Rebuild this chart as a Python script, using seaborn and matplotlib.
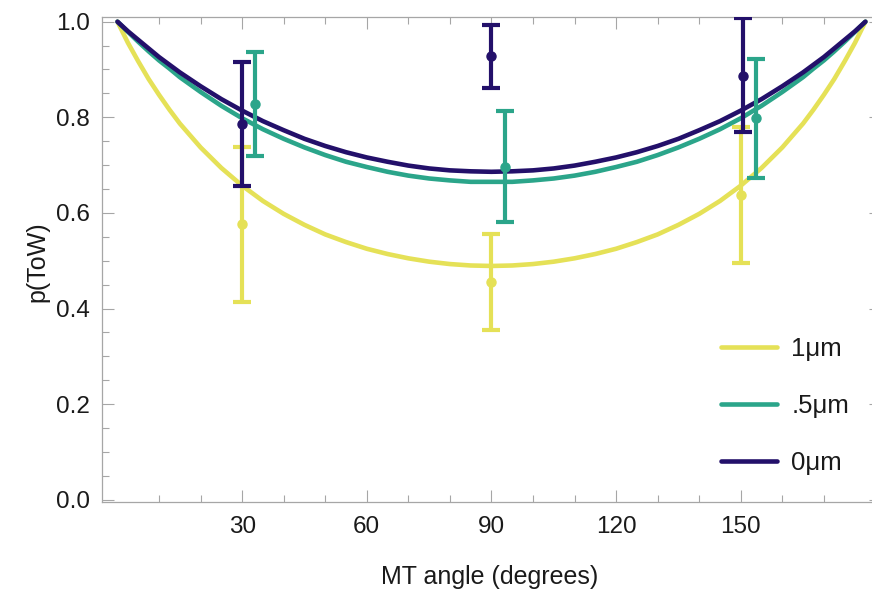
import numpy as np
import pandas as pd
import matplotlib
matplotlib.use("Agg")
import matplotlib.pyplot as plt
import seaborn as sns
from matplotlib.ticker import FixedLocator, FormatStrFormatter
from matplotlib.lines import Line2D

# ---------------- data ----------------
series_names = ["1\u03bcm", ".5\u03bcm", "0\u03bcm"]

curve_angles = [0, 2.5, 5, 7.5, 10, 12.5, 15, 20, 25, 30, 35, 40, 45, 50, 55, 60, 65, 70, 75, 80, 85, 90,
                95, 100, 105, 110, 115, 120, 125, 130, 135, 140, 145, 150, 155, 160, 165,
                167.5, 170, 172.5, 175, 177.5, 180]
curve_1um = [1.000, 0.956, 0.917, 0.880, 0.847, 0.816, 0.787, 0.737, 0.694, 0.657, 0.625, 0.598,
             0.575, 0.555, 0.539, 0.525, 0.514, 0.505, 0.498, 0.493, 0.490, 0.489,
             0.490, 0.493, 0.498, 0.505, 0.514, 0.525, 0.539, 0.555, 0.575, 0.598, 0.625, 0.657,
             0.694, 0.737, 0.787, 0.816, 0.847, 0.880, 0.917, 0.956, 1.000]
curve_05um = [1.000, 0.979, 0.958, 0.938, 0.919, 0.902, 0.884, 0.853, 0.824, 0.798, 0.775, 0.755,
              0.737, 0.721, 0.707, 0.696, 0.686, 0.678, 0.672, 0.668, 0.665, 0.665,
              0.665, 0.668, 0.672, 0.678, 0.686, 0.696, 0.707, 0.721, 0.737, 0.755, 0.775, 0.798,
              0.824, 0.853, 0.884, 0.902, 0.919, 0.938, 0.958, 0.979, 1.000]
curve_0um = [1.000, 0.980, 0.962, 0.944, 0.926, 0.910, 0.894, 0.865, 0.838, 0.814, 0.792, 0.773,
             0.755, 0.740, 0.727, 0.716, 0.707, 0.699, 0.693, 0.689, 0.687, 0.686,
             0.687, 0.689, 0.693, 0.699, 0.707, 0.716, 0.727, 0.740, 0.755, 0.773, 0.792, 0.814,
             0.838, 0.865, 0.894, 0.910, 0.926, 0.944, 0.962, 0.980, 1.000]

# measured points (mean, lower bar end, upper bar end)
angles_1um = [30, 90, 150]
mean_1um = [0.577, 0.456, 0.637]
low_1um = [0.414, 0.355, 0.495]
high_1um = [0.738, 0.556, 0.779]

angles_05um = [33.0, 93.3, 153.6]
mean_05um = [0.827, 0.697, 0.798]
low_05um = [0.719, 0.582, 0.674]
high_05um = [0.936, 0.814, 0.921]

angles_0um = [30, 90, 150.5]
mean_0um = [0.787, 0.928, 0.887]
low_0um = [0.657, 0.862, 0.770]
high_0um = [0.916, 0.993, 1.007]

colors = {"1\u03bcm": "#E5E157", ".5\u03bcm": "#2BA58A", "0\u03bcm": "#23106A"}

x_major = [30, 60, 90, 120, 150]
x_minor = [10, 20, 40, 50, 70, 80, 100, 110, 130, 140, 160, 170]
y_major = [0.0, 0.2, 0.4, 0.6, 0.8, 1.0]

# ---------------- figure ----------------
sns.set_style("ticks")
plt.rcParams["font.family"] = ["Liberation Sans", "DejaVu Sans"]

W, H = 872, 590
fig = plt.figure(figsize=(W / 100, H / 100), dpi=100)
left_px, right_px, top_px, bottom_px = 101.7, 881.2, 17.3, 502.3
ax = fig.add_axes([left_px / W, 1 - bottom_px / H, (right_px - left_px) / W, (bottom_px - top_px) / H])

df = pd.DataFrame({
    "angle": curve_angles * 3,
    "p": curve_1um + curve_05um + curve_0um,
    "series": [series_names[0]] * len(curve_angles) + [series_names[1]] * len(curve_angles)
              + [series_names[2]] * len(curve_angles),
})
sns.lineplot(data=df, x="angle", y="p", hue="series", hue_order=series_names, palette=colors,
             estimator=None, linewidth=3.3, legend=False, ax=ax, zorder=2)

pts = [
    (series_names[0], angles_1um, mean_1um, low_1um, high_1um),
    (series_names[1], angles_05um, mean_05um, low_05um, high_05um),
    (series_names[2], angles_0um, mean_0um, low_0um, high_0um),
]
for i, (name, xa, m, lo, hi) in enumerate(pts):
    m_arr = np.array(m)
    yerr = np.vstack([m_arr - np.array(lo), np.array(hi) - m_arr])
    ax.errorbar(xa, m, yerr=yerr, fmt="o", color=colors[name], markersize=6.5,
                elinewidth=3.0, capsize=6.5, capthick=3.0, zorder=3 + i)

ax.set_xlim(-3.8, 183.8)
ax.set_ylim(-0.0054, 1.0092)

ax.xaxis.set_major_locator(FixedLocator(x_major))
ax.xaxis.set_minor_locator(FixedLocator(x_minor))
ax.yaxis.set_major_locator(FixedLocator(y_major))
ax.yaxis.set_minor_locator(FixedLocator([0.05, 0.1, 0.15, 0.25, 0.3, 0.35, 0.45, 0.5, 0.55,
                                          0.65, 0.7, 0.75, 0.85, 0.9, 0.95]))
ax.yaxis.set_major_formatter(FormatStrFormatter("%.1f"))

frame_col = "#A6A6A6"
for s in ax.spines.values():
    s.set_visible(True)
    s.set_color(frame_col)
    s.set_linewidth(0.9)

ax.tick_params(which="both", direction="in", top=True, right=True, color=frame_col, width=0.8,
               labelcolor="#1a1a1a", labelsize=17.5)
ax.tick_params(which="major", length=8.5)
ax.tick_params(which="minor", length=5)
ax.tick_params(axis="x", which="major", pad=10)
ax.tick_params(axis="y", which="major", pad=8.5)

ax.set_xlabel("MT angle (degrees)", fontsize=18, color="#1a1a1a")
ax.set_ylabel("p(ToW)", fontsize=18, color="#1a1a1a")
axw = right_px - left_px
axh = bottom_px - top_px
ax.xaxis.set_label_coords((490 - left_px) / axw, (bottom_px - 565) / axh)
ax.yaxis.set_label_coords((49 - left_px) / axw, (bottom_px - 262) / axh)

handles = [Line2D([0], [0], color=colors[n], lw=3.3) for n in series_names]
ax.legend(handles, series_names, loc="center", bbox_to_anchor=(785 / W, 1 - 406 / H),
          bbox_transform=fig.transFigure, frameon=False, fontsize=18.5, labelspacing=1.28,
          handlelength=2.2, handletextpad=0.55, borderpad=0, labelcolor="#1a1a1a")

fig.savefig("out.png", dpi=100)
